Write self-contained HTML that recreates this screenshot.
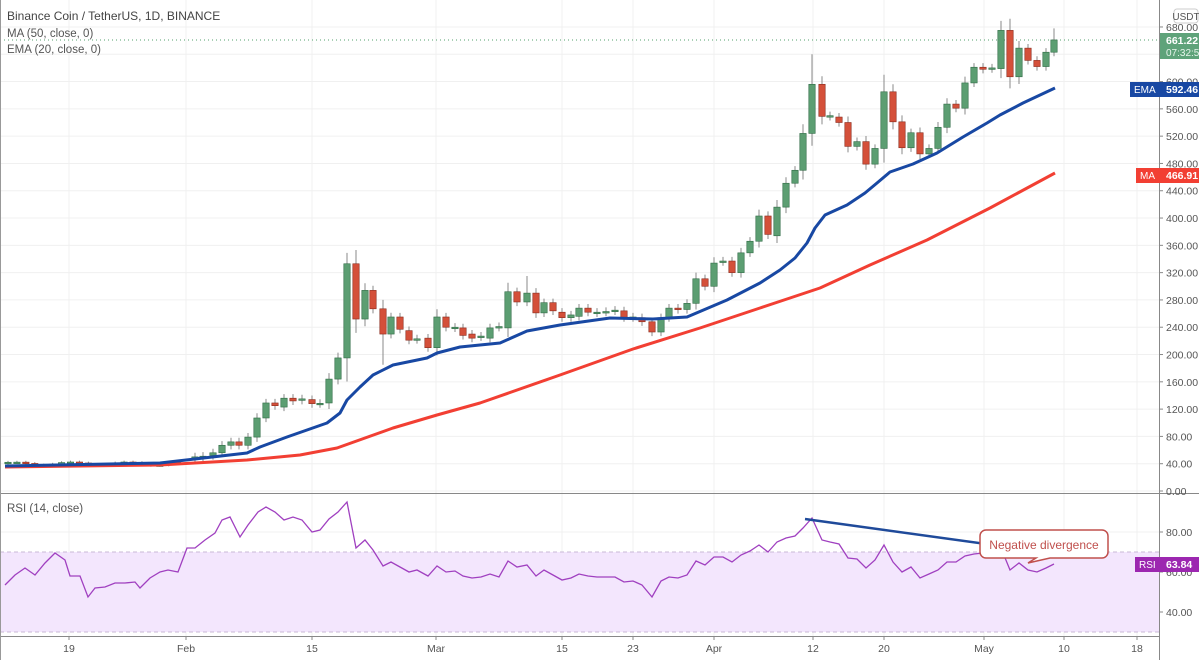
<!DOCTYPE html>
<html><head><meta charset="utf-8"><style>
html,body{margin:0;padding:0;background:#fff;}
svg{display:block;font-family:"Liberation Sans",sans-serif;}
</style></head><body>
<svg id="c" width="1199" height="660" viewBox="0 0 1199 660" xmlns="http://www.w3.org/2000/svg"></svg>
<script>
const s=document.getElementById('c');let h='';
const py=v=>491-v*0.6824;
const xs=[69,186,312,436,562,633,714,813,884,984,1064,1137];
const xl=['19','Feb','15','Mar','15','23','Apr','12','20','May','10','18'];
const pl=[680,640,600,560,520,480,440,400,360,320,280,240,200,160,120,80,40,0];
pl.forEach(v=>{h+=`<line x1="0" x2="1159" y1="${py(v)}" y2="${py(v)}" stroke="#f0f0f0"/>`;});
[532,612].forEach(y=>h+=`<line x1="0" x2="1159" y1="${y}" y2="${y}" stroke="#f0f0f0"/>`);
xs.forEach(x=>h+=`<line x1="${x}" x2="${x}" y1="0" y2="636" stroke="#f0f0f0"/>`);
h+=`<rect x="0" y="552" width="1159" height="80" fill="#f3e6fd"/>`;
h+=`<line x1="0" x2="1159" y1="552" y2="552" stroke="#c9b8d6" stroke-dasharray="4,3"/><line x1="0" x2="1159" y1="632" y2="632" stroke="#c9b8d6" stroke-dasharray="4,3"/>`;
h+=`<line x1="0" x2="1159" y1="40" y2="40" stroke="#53a26c" stroke-dasharray="1,3"/>`;
const C=[];
for(let i=0;i<20;i++){let x=8+i*8.93;let o=40+Math.sin(i)*2.5,c=40+Math.sin(i+1)*2.5;C.push([x,o,c,Math.max(o,c)+2,Math.min(o,c)-2]);}
const D=[[195,48,50],[203,50,51],[213,52,56],[222,56,67],[231,67,72],[239,72,67],[248,67,79],[257,79,107],[266,107,129],[275,129,125],[284,123,136],[293,136,132],[302,133,135],[312,134,128],[320,128,128.5],[329,129,164],[338,164,195],[347,195,333,349],[356,333,252],[365,252,294],[373,294,267],[383,267,230,280,185],[391,230,255],[400,255,237],[409,235,221],[417,222,223],[428,224,210],[437,210,255],[446,255,240],[455,239,240],[463,239,228],[472,230,224],[481,226,227],[490,224,239],[499,240,241],[508,239,292],[517,292,277],[527,277,290,315],[536,290,261],[544,261,276],[553,276,264],[562,262,254],[571,254,258],[579,256,268],[588,268,262],[597,261,262],[606,262,263],[615,264,265],[624,264,254],[633,254,255],[642,254,248],[652,248,233],[661,233,254],[669,254,268],[678,268,266],[687,266,275],[696,275,311],[705,311,300],[714,300,334],[723,336,337],[732,337,320],[741,320,349],[750,349,366],[759,366,403],[768,403,376],[777,374,416],[786,416,451],[795,451,470],[803,470,524],[812,524,596,640],[822,596,549],[830,549,550],[839,548,540],[848,540,505],[857,505,512],[866,512,479],[875,479,502],[884,502,585,610],[893,585,541],[902,541,503],[911,503,525],[920,525,494],[929,494,502],[938,502,533],[947,533,567],[956,567,561],[965,561,598],[974,598,621],[983,621,618],[992,619,620],[1001,619,675],[1010,675,607],[1019,607,649],[1028,649,631],[1037,631,622],[1046,622,643],[1054,643,661,678]];
D.forEach(d=>{let[x,o,c,hi,lo]=d;let r=Math.abs(c-o);hi=hi||Math.max(o,c)+Math.max(6,r*0.25);lo=lo||Math.min(o,c)-Math.max(6,r*0.25);C.push([x,o,c,hi,lo]);});
C.forEach(([x,o,c,hi,lo])=>{const up=c>=o;const f=up?'#5c9e72':'#d4503a',st=up?'#2f6b44':'#8a2a1c';
h+=`<line x1="${x}" x2="${x}" y1="${py(hi)}" y2="${py(lo)}" stroke="#888"/>`;
let y1=py(Math.max(o,c)),y2=py(Math.min(o,c));if(y2-y1<1.5)y2=y1+1.5;
h+=`<rect x="${x-3.2}" y="${y1}" width="6.4" height="${y2-y1}" fill="${f}" stroke="${st}" stroke-width="0.6"/>`;});
const ma=[[5,467],[160,465],[247,460],[300,455],[337,448],[393,428],[437,415],[480,403],[560,375],[633,349],[700,328],[760,308],[790,298],[820,288],[870,265],[927,240],[990,208],[1055,173]];
const ema=[[5,466],[160,463],[247,453],[260,447],[287,437],[307,430],[327,423],[340,413],[347,400],[360,387],[373,375],[393,365],[427,358],[437,353],[460,347],[500,343],[527,331],[560,325],[610,318],[653,319],[687,317],[727,300],[760,283],[780,270],[795,258],[807,243],[815,228],[825,215],[847,205],[865,193],[877,183],[890,172],[913,164],[937,153],[963,137],[987,123],[1000,115],[1023,103],[1055,88]];
h+=`<polyline points="${ma.join(' ')}" fill="none" stroke="#f23f33" stroke-width="3" stroke-linejoin="round"/>`;
h+=`<polyline points="${ema.join(' ')}" fill="none" stroke="#1848a3" stroke-width="3" stroke-linejoin="round"/>`;
const rsi=[[5,585],[15,575],[25,568],[35,575],[45,563],[55,553],[65,560],[70,576],[80,576],[88,597],[95,588],[105,587],[115,583],[125,583],[135,582],[140,588],[150,578],[160,572],[168,570],[178,572],[187,548],[195,548],[205,540],[215,533],[222,520],[230,517],[240,537],[248,525],[258,512],[266,507],[275,512],[284,520],[293,517],[302,520],[312,532],[320,530],[329,519],[338,512],[347,502],[356,548],[365,540],[373,550],[383,566],[391,562],[400,567],[409,572],[417,570],[428,576],[437,566],[446,572],[455,571],[463,576],[472,578],[481,577],[490,574],[499,577],[508,561],[517,567],[527,565],[536,576],[544,570],[553,575],[562,580],[571,578],[579,574],[588,576],[597,577],[606,577],[615,577],[624,582],[633,581],[642,585],[652,597],[661,581],[669,577],[678,578],[687,575],[696,561],[705,565],[714,557],[723,557],[732,562],[741,555],[750,551],[759,545],[768,552],[777,542],[786,538],[795,536],[803,528],[812,518],[822,540],[830,542],[839,544],[848,558],[857,559],[866,568],[875,560],[884,545],[893,562],[902,572],[911,567],[920,578],[929,574],[938,570],[947,562],[956,562],[965,556],[974,554],[983,553],[992,555],[1001,548],[1010,570],[1019,563],[1028,570],[1037,572],[1046,568],[1054,564]];
h+=`<polyline points="${rsi.join(' ')}" fill="none" stroke="#a040c0" stroke-width="1.3"/>`;
h+=`<line x1="805" y1="519" x2="1080" y2="557" stroke="#1f4a9a" stroke-width="2.5"/>`;
h+=`<path d="M986 530 H1102 a6 6 0 0 1 6 6 V552 a6 6 0 0 1 -6 6 H1050 L1028 563 L1036 558 H986 a6 6 0 0 1 -6 -6 V536 a6 6 0 0 1 6 -6Z" fill="#fff" stroke="#c0504d" stroke-width="1.5"/>`;
h+=`<text x="1044" y="549" font-size="12" fill="#c0504d" text-anchor="middle">Negative divergence</text>`;
h+=`<line x1="1159.5" x2="1159.5" y1="0" y2="660" stroke="#888"/>`;
h+=`<line x1="0" x2="1199" y1="493.5" y2="493.5" stroke="#888"/>`;
h+=`<line x1="0" x2="1160" y1="636.5" y2="636.5" stroke="#888"/>`;
h+=`<line x1="0.5" x2="0.5" y1="0" y2="660" stroke="#999"/>`;
pl.forEach(v=>{const y=py(v);h+=`<line x1="1159" x2="1163" y1="${y}" y2="${y}" stroke="#888"/><text x="1166" y="${y+4}" font-size="10.5" fill="#555">${v.toFixed(2)}</text>`;});
[[80,532],[60,572],[40,612]].forEach(([v,y])=>h+=`<line x1="1159" x2="1163" y1="${y}" y2="${y}" stroke="#888"/><text x="1166" y="${y+4}" font-size="10.5" fill="#555">${v.toFixed(2)}</text>`);
xs.forEach((x,i)=>h+=`<line x1="${x}" x2="${x}" y1="636" y2="640" stroke="#888"/><text x="${x}" y="652" font-size="10.5" fill="#555" text-anchor="middle">${xl[i]}</text>`);
h+=`<rect x="1174" y="9" width="24" height="14" rx="3" fill="#fff" stroke="#ccc"/><text x="1186" y="20" font-size="10" fill="#555" text-anchor="middle">USDT</text>`;
h+=`<rect x="1160" y="33" width="39" height="26" fill="#5fa37a"/><text x="1166" y="44" font-size="10.5" font-weight="bold" fill="#fff">661.22</text><text x="1166" y="56" font-size="10" fill="#e8f5ec">07:32:5</text>`;
h+=`<rect x="1130" y="82" width="69" height="15" fill="#1848a3"/><text x="1134" y="93" font-size="10" fill="#fff">EMA</text><text x="1166" y="93" font-size="10.5" font-weight="bold" fill="#fff">592.46</text>`;
h+=`<rect x="1136" y="168" width="63" height="15" fill="#f23f33"/><text x="1140" y="179" font-size="10" fill="#fff">MA</text><text x="1166" y="179" font-size="10.5" font-weight="bold" fill="#fff">466.91</text>`;
h+=`<rect x="1135" y="557" width="64" height="15" fill="#9c27b0"/><text x="1139" y="568" font-size="10" fill="#fff">RSI</text><text x="1166" y="568" font-size="10.5" font-weight="bold" fill="#fff">63.84</text>`;
h+=`<text x="7" y="20" font-size="12" fill="#444">Binance Coin / TetherUS, 1D, BINANCE</text>`;
h+=`<text x="7" y="37" font-size="11.5" fill="#555">MA (50, close, 0)</text>`;
h+=`<text x="7" y="53" font-size="11.5" fill="#555">EMA (20, close, 0)</text>`;
h+=`<text x="7" y="512" font-size="11.5" fill="#555">RSI (14, close)</text>`;
s.innerHTML=h;
</script>
</body></html>
